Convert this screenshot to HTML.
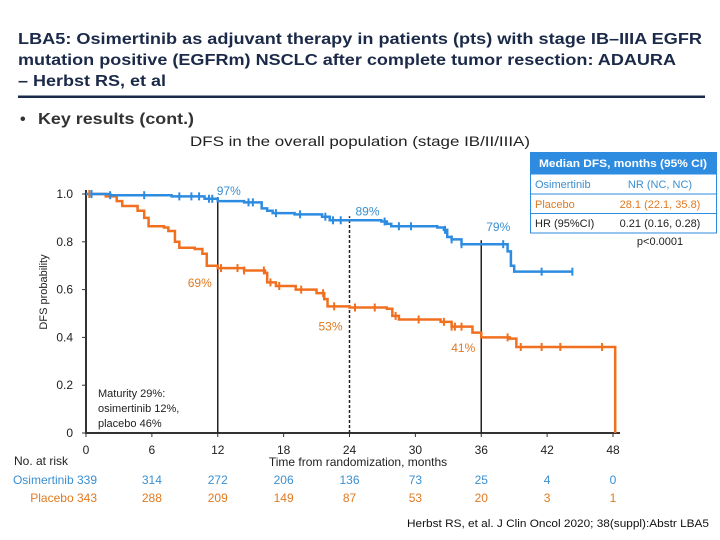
<!DOCTYPE html>
<html><head><meta charset="utf-8"><style>
html,body{margin:0;padding:0;background:#fff;width:720px;height:540px;overflow:hidden}
svg{display:block;font-family:"Liberation Sans",Arial,sans-serif}
</style></head><body>
<svg id="chart" width="720" height="540" viewBox="0 0 720 540" xmlns="http://www.w3.org/2000/svg">
<g fill="#1b2a48" font-weight="bold" font-size="16">
<text x="18" y="44" textLength="684" lengthAdjust="spacingAndGlyphs">LBA5: Osimertinib as adjuvant therapy in patients (pts) with stage IB–IIIA EGFR</text>
<text x="18" y="65" textLength="658" lengthAdjust="spacingAndGlyphs">mutation positive (EGFRm) NSCLC after complete tumor resection: ADAURA</text>
<text x="18" y="86" textLength="148" lengthAdjust="spacingAndGlyphs">– Herbst RS, et al</text>
</g>
<rect x="18" y="95.5" width="687" height="2.5" fill="#1b2a48"/>
<text x="20" y="124" font-size="16" font-weight="bold" fill="#333">•</text>
<text x="38" y="124" font-size="16" font-weight="bold" fill="#333" textLength="156" lengthAdjust="spacingAndGlyphs">Key results (cont.)</text>
<text x="190" y="146" font-size="14" fill="#222" textLength="340" lengthAdjust="spacingAndGlyphs">DFS in the overall population (stage IB/II/IIIA)</text>

<g font-size="11">
<rect x="530" y="152" width="187" height="22" fill="#2e8ce0"/>
<text x="623" y="167" text-anchor="middle" fill="#fff" font-weight="bold" textLength="168" lengthAdjust="spacingAndGlyphs">Median DFS, months (95% CI)</text>
<rect x="530.5" y="174" width="186" height="59" fill="none" stroke="#2e8ce0" stroke-width="1"/>
<line x1="530" y1="194" x2="717" y2="194" stroke="#2e8ce0"/>
<line x1="530" y1="213.5" x2="717" y2="213.5" stroke="#2e8ce0"/>
<text x="535" y="188" fill="#3a8fd0">Osimertinib</text>
<text x="660" y="188" text-anchor="middle" fill="#3a8fd0">NR (NC, NC)</text>
<text x="535" y="208" fill="#e07a20">Placebo</text>
<text x="660" y="208" text-anchor="middle" fill="#e07a20">28.1 (22.1, 35.8)</text>
<text x="535" y="227" fill="#222">HR (95%CI)</text>
<text x="660" y="227" text-anchor="middle" fill="#222">0.21 (0.16, 0.28)</text>
<text x="660" y="245" text-anchor="middle" fill="#222">p&lt;0.0001</text>
</g>

<g id="plot"></g>

<text x="709" y="527" text-anchor="end" font-size="11" fill="#111" textLength="302" lengthAdjust="spacingAndGlyphs">Herbst RS, et al. J Clin Oncol 2020; 38(suppl):Abstr LBA5</text>
</svg>
<script>
const xTicks = [0,6,12,18,24,30,36,42,48];
const yTicks = [0,0.2,0.4,0.6,0.8,1.0];
const yTickLabels = ["0","0.2","0.4","0.6","0.8","1.0"];
const osiTimes = [0,2.2,7.8,10.8,12,14.4,16,16.5,17,19,21.5,22.2,26.9,27.4,27.8,32,32.6,32.9,33.3,34.2,38.2,38.4,38.7,39,44.3];
const osiSurv  = [1.0,0.995,0.99,0.98,0.97,0.965,0.94,0.93,0.92,0.915,0.905,0.89,0.885,0.875,0.865,0.86,0.85,0.82,0.81,0.79,0.79,0.76,0.70,0.675,0.675];
const plaTimes = [0,1.8,2.8,3.3,4.7,5.3,5.7,7.1,7.5,8.1,8.5,9.9,10.6,11,12,14.4,16.3,16.5,17.3,19.1,21,21.7,22,24,27.4,27.9,28.5,32.3,33.3,35.2,36,38.6,39.2,48.2];
const plaSurv  = [1.0,0.99,0.97,0.95,0.93,0.90,0.865,0.86,0.845,0.80,0.775,0.77,0.75,0.70,0.69,0.68,0.67,0.63,0.615,0.60,0.585,0.56,0.53,0.525,0.52,0.49,0.475,0.465,0.445,0.42,0.40,0.395,0.36,0.36];
const osiCensor = [0.5,2.2,5.3,8.5,9.6,10.3,11.2,11.5,14.8,15.2,17.3,19.5,21.8,22.5,23.2,27.2,28.5,29.6,32.7,33.3,34.2,38.0,41.5,44.3];
const plaCensor = [0.3,12.3,13.8,14.4,16.2,16.8,17.6,19.6,21.6,22.6,24.5,26.3,28.2,30.3,32.6,33.3,33.6,34.2,38.4,39.6,41.5,43.2,47];
const riskOsi = ["339","314","272","206","136","73","25","4","0"];
const riskPla = ["343","288","209","149","87","53","20","3","1"];
const landmarkMonths = [12,24,36];
const osiLandmarks = [{m:12,v:0.97,t:"97%"},{m:24,v:0.89,t:"89%"},{m:36,v:0.79,t:"79%"}];
const plaLandmarks = [{m:12,v:0.69,t:"69%"},{m:24,v:0.53,t:"53%"},{m:36,v:0.41,t:"41%"}];

const X0=86, X1=613, Y0=433, Y1=194;
const sx = m => X0 + (X1-X0)*m/48;
const sy = v => Y0 - (Y0-Y1)*v;
const NS="http://www.w3.org/2000/svg";
const plot=document.getElementById('plot');
function mk(tag,attrs,parent){const e=document.createElementNS(NS,tag);for(const k in attrs)e.setAttribute(k,attrs[k]);(parent||plot).appendChild(e);return e;}
function stepLine(ts,vs){let d="M"+sx(ts[0])+","+sy(vs[0]);for(let i=1;i<ts.length;i++){d+=" H"+sx(ts[i])+" V"+sy(vs[i]);}return d;}
function valAt(ts,vs,m){let v=vs[0];for(let i=0;i<ts.length;i++){if(ts[i]<=m)v=vs[i];}return v;}

let ax=mk('line',{x1:X0,y1:Y0,x2:620,y2:Y0,stroke:'#333','stroke-width':2});


let ay=mk('line',{x1:X0,y1:Y0+1,x2:X0,y2:Y1-4,stroke:'#333','stroke-width':2});


xTicks.forEach((m,i)=>{
  let t=mk('line',{x1:sx(m),y1:Y0,x2:sx(m),y2:Y0+4,stroke:'#333','stroke-width':1});
  
  
  let l=mk('text',{x:sx(m),y:454,'text-anchor':'middle','font-size':12,fill:'#222'});
  l.textContent=String(m);
  
  
  let r1=mk('text',{x:i==0?97:sx(m),y:484,'text-anchor':i==0?'end':'middle','font-size':12,fill:'#3a8fd0'});
  r1.textContent=(i==0?"Osimertinib ":"")+riskOsi[i];
  
  
  let r2=mk('text',{x:i==0?97:sx(m),y:502,'text-anchor':i==0?'end':'middle','font-size':12,fill:'#e07a20'});
  r2.textContent=(i==0?"Placebo ":"")+riskPla[i];
  
  
});
yTicks.forEach((v,i)=>{
  let t=mk('line',{x1:X0-4,y1:sy(v),x2:X0,y2:sy(v),stroke:'#333','stroke-width':1});
  
  
  let l=mk('text',{x:73,y:sy(v)+4,'text-anchor':'end','font-size':12,fill:'#222'});
  l.textContent=yTickLabels[i];
  
  
});
let yt=mk('text',{x:0,y:0,'text-anchor':'middle','font-size':11,fill:'#222',transform:'translate(47,292) rotate(-90)'});
yt.textContent="DFS probability";


let xt=mk('text',{x:358,y:466,'text-anchor':'middle','font-size':12,fill:'#222'});
xt.textContent="Time from randomization, months";


let nr=mk('text',{x:14,y:465,'font-size':12,fill:'#222'});
nr.textContent="No. at risk";



["Maturity 29%:","osimertinib 12%,","placebo 46%"].forEach((s,i)=>{
  let t=mk('text',{x:98,y:397+i*15,'font-size':11,fill:'#222'});
  t.textContent=s;
  
  
});

landmarkMonths.forEach((m,i)=>{
  let top=sy(valAt(osiTimes,osiSurv,m))-4;
  let l=mk('line',{x1:sx(m),y1:Y0,x2:sx(m),y2:top,stroke:'#222','stroke-width':1.5});
  if(m===24)l.setAttribute('stroke-dasharray','3,2');
  
  
});

let pc=mk('path',{d:stepLine(plaTimes,plaSurv)+" V"+sy(0),fill:'none',stroke:'#f07020','stroke-width':2.5});


let oc=mk('path',{d:stepLine(osiTimes,osiSurv),fill:'none',stroke:'#2e8ce0','stroke-width':2.5});


osiCensor.forEach(m=>{
  let c=mk('line',{x1:sx(m),y1:sy(valAt(osiTimes,osiSurv,m))-4,x2:sx(m),y2:sy(valAt(osiTimes,osiSurv,m))+4,stroke:'#2e8ce0','stroke-width':2});
  
  
});
plaCensor.forEach(m=>{
  let c=mk('line',{x1:sx(m),y1:sy(valAt(plaTimes,plaSurv,m))-4,x2:sx(m),y2:sy(valAt(plaTimes,plaSurv,m))+4,stroke:'#f07020','stroke-width':2});
  
  
});
const osiDx=[11,18,17], osiDy=[-6,-5,-13];
osiLandmarks.forEach((d,i)=>{
  let t=mk('text',{x:sx(d.m)+osiDx[i],y:sy(d.v)+osiDy[i],'text-anchor':'middle','font-size':12,fill:'#3a8fd0'});
  t.textContent=d.t;
  
  
});
const plaDx=[-18,-19,-18], plaDy=[19,24,17];
plaLandmarks.forEach((d,i)=>{
  let t=mk('text',{x:sx(d.m)+plaDx[i],y:sy(d.v)+plaDy[i],'text-anchor':'middle','font-size':12,fill:'#e07a20'});
  t.textContent=d.t;
  
  
});
</script>
</body></html>
